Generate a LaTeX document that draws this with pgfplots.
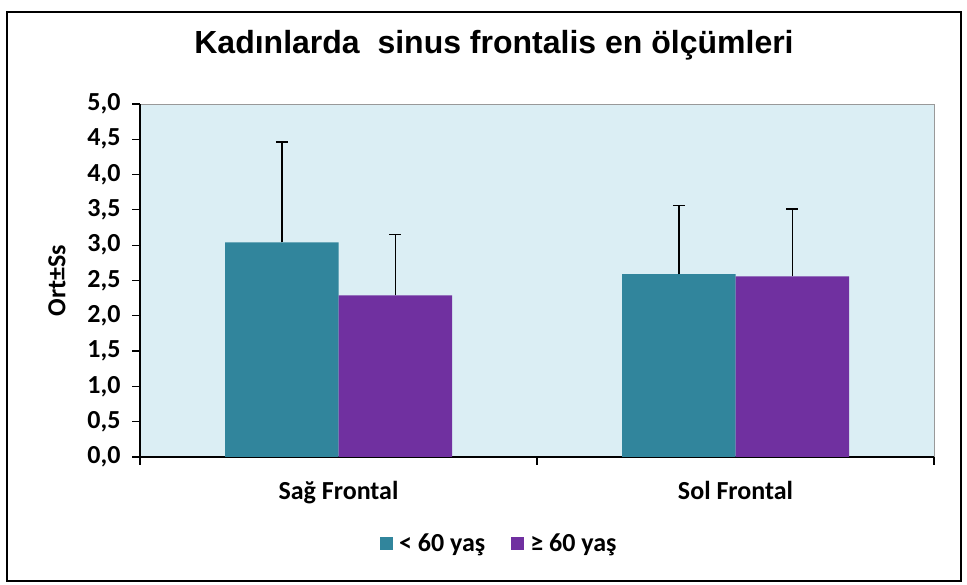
\documentclass[border=0pt]{standalone}
\usepackage{fontspec}
\setmainfont{Carlito}
\newfontfamily\titlefont{Liberation Sans}
\usepackage{pgfplots}
\pgfplotsset{compat=1.18}
\definecolor{teal1}{HTML}{31859C}
\definecolor{purp}{HTML}{7030A0}
\definecolor{bgc}{HTML}{DBEEF4}
\pgfplotsset{myerr/.style={error bars/.cd, y dir=plus, y explicit,
    error bar style={line width=1.5pt, black},
    error mark options={rotate=90, mark size=6pt, line width=1.5pt, black}}}
\begin{document}
\begin{tikzpicture}[x=1pt,y=1pt]
\useasboundingbox (0,0) rectangle (967,585);
\draw[line width=2pt] (7,4) rectangle (961,573);
\node[font=\titlefont\bfseries\fontsize{32}{38}\selectfont] at (494,540) {Kadınlarda\ \ sinus frontalis en ölçümleri};
\begin{axis}[
  at={(140pt,128pt)}, anchor=south west,
  scale only axis, width=794pt, height=353pt,
  xmin=-0.5, xmax=1.5, ymin=0, ymax=5,
  ybar=0pt, bar width=113.5pt,
  axis x line*=bottom, axis y line*=left,
  axis line style={line width=1.5pt, black},
  axis background/.style={fill=bgc, draw=gray!80},
  tick align=outside,
  xtick={0,1}, xticklabels={Sağ Frontal, Sol Frontal},
  major x tick style={draw=none},
  minor xtick={-0.5,0.5,1.5},
  minor tick length=8pt, major tick length=8pt,
  tick style={line width=1.2pt, black},
  ytick={0,0.5,...,5},
  yticklabel style={font=\bfseries\fontsize{26}{30}\selectfont, xshift=-8pt,
    /pgf/number format/.cd, fixed, fixed zerofill, precision=1, use comma, assume math mode=true},
  xticklabel style={font=\bfseries\fontsize{26}{30}\selectfont, yshift=-13pt},
  ylabel={Ort±Ss},
  ylabel style={font=\bfseries\fontsize{26}{30}\selectfont, yshift=15pt},
  legend columns=2,
  legend style={at={(0.455,-0.244)}, anchor=center, draw=none, fill=none,
    font=\bfseries\fontsize{26}{30}\selectfont,
    /tikz/every even column/.append style={column sep=20pt},
    nodes={inner xsep=6pt}},
  legend image code/.code={\fill[#1] (0pt,-6.5pt) rectangle (13pt,6.5pt);},
]
\addplot[fill=teal1, draw=none, myerr] coordinates {(0,3.04) +- (0,1.42) (1,2.59) +- (0,0.97)};
\addplot[fill=purp, draw=none, myerr] coordinates {(0,2.29) +- (0,0.86) (1,2.56) +- (0,0.95)};
\legend{< 60 yaş, ≥ 60 yaş}
\end{axis}
\end{tikzpicture}
\end{document}
